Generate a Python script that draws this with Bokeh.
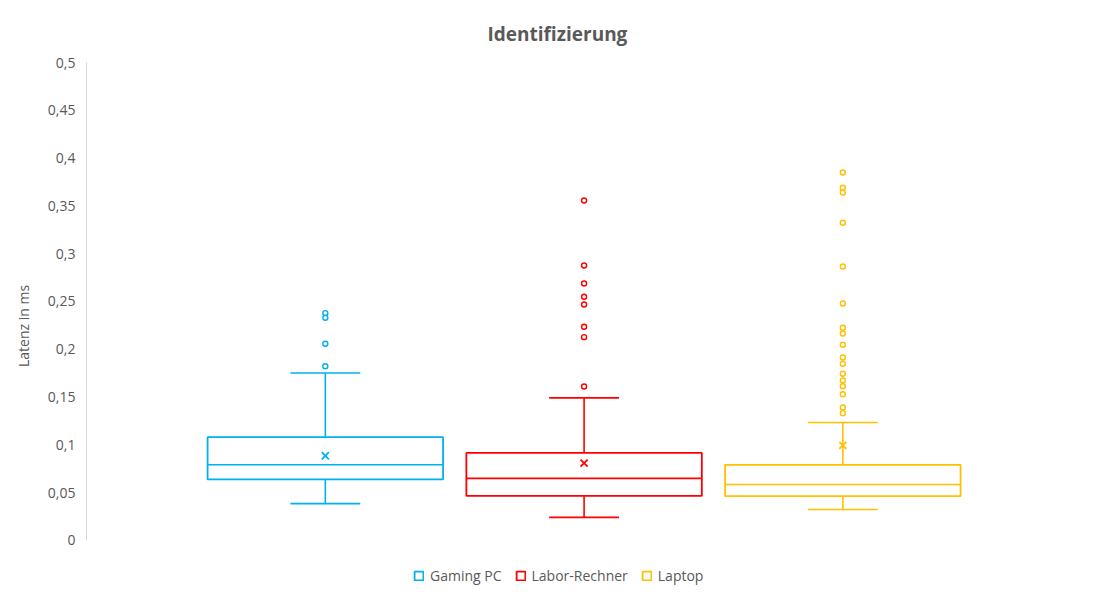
from bokeh.plotting import figure
from bokeh.models import (Range1d, FixedTicker, CustomJSTickFormatter, Legend,
                          LegendItem)
from bokeh.embed import file_html
from bokeh.resources import INLINE

# ---- data ----
categories = ["Gaming PC", "Labor-Rechner", "Laptop"]
colors = ["#00B0F0", "#FF0000", "#FFC000"]
q1 = [0.0638, 0.0467, 0.0464]
median = [0.0792, 0.0649, 0.0586]
q3 = [0.1080, 0.0917, 0.0791]
whisker_low = [0.0385, 0.0241, 0.0324]
whisker_high = [0.1752, 0.1492, 0.1234]
means = [0.0886, 0.0809, 0.0994]
outliers_gaming = [0.2378, 0.2330, 0.2058, 0.1823]
outliers_labor = [0.3556, 0.2877, 0.2688, 0.2549, 0.2469, 0.2235, 0.2127, 0.1611]
outliers_laptop = [0.3849, 0.3689, 0.3640, 0.3323, 0.2866, 0.2479, 0.2225, 0.2165,
                   0.2047, 0.1914, 0.1848, 0.1744, 0.1674, 0.1614, 0.1530, 0.1391,
                   0.1332]
outliers = [outliers_gaming, outliers_labor, outliers_laptop]
y_ticks = [0, 0.05, 0.1, 0.15, 0.2, 0.25, 0.3, 0.35, 0.4, 0.45, 0.5]

FONT = "Open Sans"
GRAY = "#595959"

p = figure(width=1092, height=589, output_backend="svg", toolbar_location=None,
           x_range=Range1d(0.077, 3.93), y_range=Range1d(-0.0513, 0.5),
           min_border_left=86, min_border_top=62, min_border_bottom=0,
           min_border_right=9, title="Identifizierung")
p.outline_line_color = None
p.xgrid.visible = False
p.ygrid.visible = False
p.xaxis.visible = False

p.title.align = "left"
p.title.text_font = FONT
p.title.text_font_size = "19px"
p.title.text_font_style = "bold"
p.title.text_color = GRAY
p.title.offset = 401
p.title.standoff = 31

ya = p.yaxis[0]
ya.bounds = (0, 0.5)
ya.ticker = FixedTicker(ticks=y_ticks)
ya.formatter = CustomJSTickFormatter(
    code="return parseFloat(tick.toFixed(3)).toString().replace('.', ',');")
ya.axis_line_color = "#d9d9d9"
ya.major_tick_line_color = None
ya.minor_tick_line_color = None
ya.major_label_text_color = GRAY
ya.major_label_text_font = FONT
ya.major_label_text_font_size = "14px"
ya.major_label_standoff = 5
ya.axis_label = "Latenz in ms"
ya.axis_label_text_font = FONT
ya.axis_label_text_font_size = "14px"
ya.axis_label_text_font_style = "normal"
ya.axis_label_text_color = GRAY
ya.axis_label_standoff = 12

box_w = 0.91
cap_w = 0.27
legend_items = []
for i, name in enumerate(categories):
    x = i + 1
    c = colors[i]
    # whiskers
    p.segment(x0=[x, x], y0=[q3[i], q1[i]], x1=[x, x],
              y1=[whisker_high[i], whisker_low[i]], line_color=c, line_width=1.6)
    p.segment(x0=[x - cap_w / 2] * 2, x1=[x + cap_w / 2] * 2,
              y0=[whisker_high[i], whisker_low[i]], y1=[whisker_high[i], whisker_low[i]],
              line_color=c, line_width=1.6)
    # box
    r = p.quad(left=[x - box_w / 2], right=[x + box_w / 2], bottom=[q1[i]], top=[q3[i]],
               fill_color="white", line_color=c, line_width=1.8)
    # median
    p.segment(x0=[x - box_w / 2], x1=[x + box_w / 2], y0=[median[i]], y1=[median[i]],
              line_color=c, line_width=1.6)
    # mean
    p.scatter(x=[x], y=[means[i]], marker="x", size=10, line_color=c, line_width=1.8)
    # outliers
    p.scatter(x=[x] * len(outliers[i]), y=outliers[i], marker="circle", size=5,
              fill_color="white", line_color=c, line_width=1.4)
    legend_items.append(LegendItem(label=name, renderers=[r]))

legend = Legend(items=legend_items, orientation="horizontal", location=(327, 4),
                border_line_color=None, background_fill_alpha=0,
                label_text_font=FONT, label_text_font_size="14px",
                label_text_color=GRAY, glyph_width=11, glyph_height=11,
                label_standoff=6, spacing=13, padding=4, margin=0)
p.add_layout(legend)

open("out.html", "w").write(file_html(p, INLINE))
